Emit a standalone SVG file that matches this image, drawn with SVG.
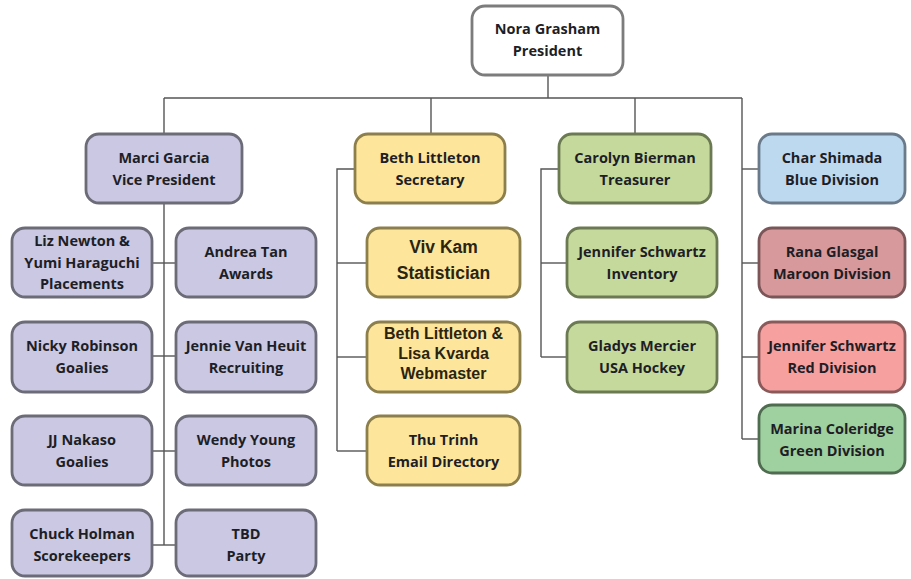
<svg xmlns="http://www.w3.org/2000/svg" width="911" height="579" viewBox="0 0 911 579">
<style>
  .box{stroke-width:2.8}
  .w{fill:#ffffff;stroke:#7c7c7c}
  .lav{fill:#cac8e2;stroke:#6c6b78}
  .yel{fill:#fde69c;stroke:#8c7f4c}
  .grn{fill:#c6d99c;stroke:#6b7a52}
  .blu{fill:#bdd9f0;stroke:#6a7a8a}
  .mar{fill:#d7999b;stroke:#7a5659}
  .red{fill:#f6a0a0;stroke:#8a5a5a}
  .gdv{fill:#9fd0a0;stroke:#4f6b50}
  text{font-family:"Open Sans","Noto Sans","Liberation Sans",sans-serif;font-weight:bold;font-size:14.5px;fill:#1e1e26;text-anchor:middle}
  text.ar{font-family:"Liberation Sans",Arial,sans-serif;fill:#2a2410}
  text.big{font-size:17.5px}
  text.mid{font-size:16px}
  .conn path{fill:none;stroke:#555555;stroke-width:1.4}
</style>
<rect width="911" height="579" fill="#ffffff"/>
<g class="conn" id="connectors">
  <path d="M548 75 V98"/>
  <path d="M164 98 H742"/>
  <path d="M164 98 V134"/>
  <path d="M431 98 V134"/>
  <path d="M635 98 V134"/>
  <path d="M742 98 V439"/>
  <path d="M164 203 V545"/>
  <path d="M152 263 H176"/>
  <path d="M152 356 H176"/>
  <path d="M152 451 H176"/>
  <path d="M152 545 H176"/>
  <path d="M355 169 H337 V451"/>
  <path d="M337 263 H367"/>
  <path d="M337 357 H367"/>
  <path d="M337 451 H367"/>
  <path d="M559 169 H541 V357"/>
  <path d="M541 263 H567"/>
  <path d="M541 357 H567"/>
  <path d="M742 169 H759"/>
  <path d="M742 263 H759"/>
  <path d="M742 357 H759"/>
  <path d="M742 439 H759"/>
</g>
<g id="nora"><rect class="box w" x="472" y="6" width="151" height="69" rx="13"/><text x="547.5" y="34">Nora Grasham</text><text x="547.5" y="56">President</text></g>
<g id="marci"><rect class="box lav" x="86" y="134" width="156" height="69" rx="13"/><text x="164" y="163">Marci Garcia</text><text x="164" y="185">Vice President</text></g>
<g id="beth-sec"><rect class="box yel" x="355" y="134" width="150" height="69" rx="13"/><text x="430" y="163">Beth Littleton</text><text x="430" y="185">Secretary</text></g>
<g id="carolyn"><rect class="box grn" x="559" y="134" width="152" height="69" rx="13"/><text x="635" y="163">Carolyn Bierman</text><text x="635" y="185">Treasurer</text></g>
<g id="char"><rect class="box blu" x="759" y="134" width="146" height="69" rx="13"/><text x="832" y="163">Char Shimada</text><text x="832" y="185">Blue Division</text></g>
<g id="liz"><rect class="box lav" x="12" y="228" width="140" height="69" rx="13"/><text x="82" y="246">Liz Newton &amp;</text><text x="82" y="268">Yumi Haraguchi</text><text x="82" y="289">Placements</text></g>
<g id="andrea"><rect class="box lav" x="176" y="228" width="140" height="69" rx="13"/><text x="246" y="257">Andrea Tan</text><text x="246" y="279">Awards</text></g>
<g id="nicky"><rect class="box lav" x="12" y="322" width="140" height="70" rx="13"/><text x="82" y="351">Nicky Robinson</text><text x="82" y="373">Goalies</text></g>
<g id="jennie"><rect class="box lav" x="176" y="322" width="140" height="70" rx="13"/><text x="246" y="351">Jennie Van Heuit</text><text x="246" y="373">Recruiting</text></g>
<g id="jj"><rect class="box lav" x="12" y="416" width="140" height="69" rx="13"/><text x="82" y="445">JJ Nakaso</text><text x="82" y="467">Goalies</text></g>
<g id="wendy"><rect class="box lav" x="176" y="416" width="140" height="69" rx="13"/><text x="246" y="445">Wendy Young</text><text x="246" y="467">Photos</text></g>
<g id="chuck"><rect class="box lav" x="12" y="510" width="140" height="66" rx="13"/><text x="82" y="539">Chuck Holman</text><text x="82" y="561">Scorekeepers</text></g>
<g id="tbd"><rect class="box lav" x="176" y="510" width="140" height="66" rx="13"/><text x="246" y="539">TBD</text><text x="246" y="561">Party</text></g>
<g id="viv"><rect class="box yel" x="367" y="228" width="153" height="69" rx="13"/><text class="ar big" x="443.5" y="253">Viv Kam</text><text class="ar big" x="443.5" y="279">Statistician</text></g>
<g id="beth-lisa"><rect class="box yel" x="367" y="322" width="153" height="70" rx="13"/><text class="ar mid" x="443.5" y="339">Beth Littleton &amp;</text><text class="ar mid" x="443.5" y="359">Lisa Kvarda</text><text class="ar mid" x="443.5" y="379">Webmaster</text></g>
<g id="thu"><rect class="box yel" x="367" y="416" width="153" height="69" rx="13"/><text x="443.5" y="445">Thu Trinh</text><text x="443.5" y="467">Email Directory</text></g>
<g id="jen-inv"><rect class="box grn" x="567" y="228" width="150" height="69" rx="13"/><text x="642" y="257">Jennifer Schwartz</text><text x="642" y="279">Inventory</text></g>
<g id="gladys"><rect class="box grn" x="567" y="322" width="150" height="70" rx="13"/><text x="642" y="351">Gladys Mercier</text><text x="642" y="373">USA Hockey</text></g>
<g id="rana"><rect class="box mar" x="759" y="228" width="146" height="69" rx="13"/><text x="832" y="257">Rana Glasgal</text><text x="832" y="279">Maroon Division</text></g>
<g id="jen-red"><rect class="box red" x="759" y="322" width="146" height="70" rx="13"/><text x="832" y="351">Jennifer Schwartz</text><text x="832" y="373">Red Division</text></g>
<g id="marina"><rect class="box gdv" x="759" y="405" width="146" height="68" rx="13"/><text x="832" y="434">Marina Coleridge</text><text x="832" y="456">Green Division</text></g>
</svg>
